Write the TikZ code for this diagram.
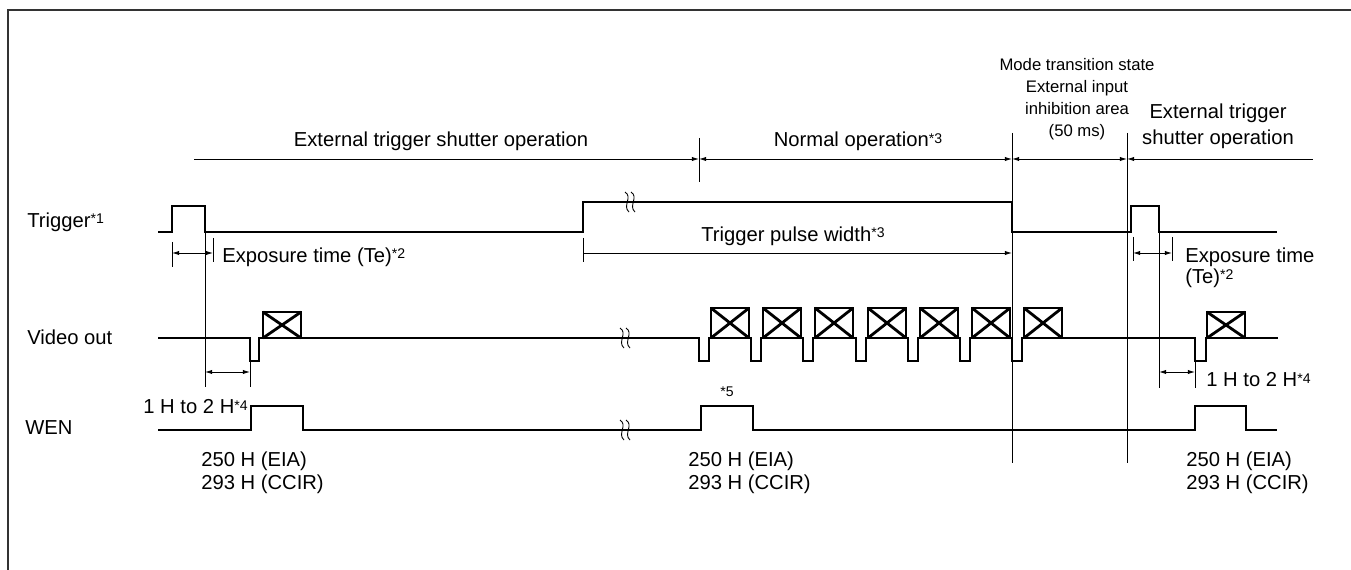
\documentclass[tikz,border=0pt]{standalone}
\usepackage{fontspec}
\setmainfont{Liberation Sans}
\usetikzlibrary{arrows.meta}

\tikzset{
  sig/.style={line width=1.3pt, line join=miter},
  thinline/.style={line width=0.5pt},
  frame/.style={line width=0.8pt, black!80},
  dim/.style={line width=0.5pt, {Latex[length=4pt,width=2.4pt]}-{Latex[length=4pt,width=2.4pt]}},
  dimr/.style={line width=0.5pt, -{Latex[length=4pt,width=2.4pt]}},
  diml/.style={line width=0.5pt, {Latex[length=4pt,width=2.4pt]}-},
  lbl/.style={font=\fontsize{11.5}{13}\selectfont, inner sep=0pt},
  small/.style={font=\fontsize{9.5}{12.5}\selectfont, inner sep=0pt},
  xbox/.style={line width=1.6pt},
}
\newcommand{\fn}[1]{{\fontsize{8}{8}\selectfont\raisebox{.45ex}{*#1}}}
% break mark on a signal line
\newcommand{\brk}[2]{%
  \draw[thinline] (#1-5,#2-10) .. controls (#1+3,#2-5) and (#1-8,#2+4) .. (#1-1,#2+10);
  \draw[thinline] (#1+1,#2-10) .. controls (#1+9,#2-5) and (#1-2,#2+4) .. (#1+5,#2+10);}
% video frame box with cross
\newcommand{\vidbox}[2]{%
  \draw[xbox] (#1,338) rectangle (#1+38,#2);
  \draw[xbox] (#1,338) -- (#1+38,#2) (#1,#2) -- (#1+38,338);}

\begin{document}
\begin{tikzpicture}[x=0.02cm, y=-0.02cm]
\useasboundingbox (0,0) rectangle (1351,570);
\draw[frame] (8,570) -- (8,10) -- (1351,10);

% signal names
\node[lbl, anchor=west] (trig) at (27,222) {Trigger\fn{1}};
\node[lbl, anchor=west] (vout) at (27,337) {Video out};
\node[lbl, anchor=west] (wen) at (25,428) {WEN};

% operation ranges
\coordinate (S1) at (194,159);
\coordinate (S2) at (699,159);
\coordinate (S3) at (1012,159);
\coordinate (S4) at (1127,159);
\coordinate (S5) at (1313,159);
\draw[dimr] (S1) -- (S2);
\draw[dim] (S2) -- (S3);
\draw[dim] (S3) -- (S4);
\draw[diml] (S4) -- (S5);
\draw[thinline] (699,138) -- (699,182);
\draw[thinline] (1012,133) -- (1012,463);
\draw[thinline] (1127,133) -- (1127,463);

\node[lbl, anchor=base] (extop) at (441,147) {External trigger shutter operation};
\node[lbl, anchor=base] (normop) at (858,147) {Normal operation\fn{3}};
\node[small, align=center, anchor=south] (mode) at (1077,140)
  {Mode transition state\\External input\\inhibition area\\(50 ms)};
\node[lbl, align=center, anchor=south, font=\fontsize{11.5}{14.5}\selectfont] (extop2) at (1218,149)
  {External trigger\\shutter operation};

% trigger
\draw[sig] (158,232) -- (172,232) -- (172,206) -- (205,206) -- (205,232) -- (583,232)
  -- (583,202) -- (1012,202) -- (1012,232) -- (1131,232) -- (1131,206) -- (1159,206)
  -- (1159,232) -- (1277,232);
\brk{630}{202}

% exposure time and pulse width
\draw[thinline] (172,242) -- (172,267);
\draw[thinline] (213,238) -- (213,262);
\draw[dim] (172,253) -- (213,253);
\node[lbl, anchor=west] (exp1) at (222,257) {Exposure time (Te)\fn{2}};

\draw[thinline] (583,238) -- (583,262);
\draw[dimr] (583,253) -- (1012,253);
\node[lbl, anchor=west] (tpw) at (701,236) {Trigger pulse width\fn{3}};

\draw[thinline] (1133,237) -- (1133,261);
\draw[thinline] (1172,237) -- (1172,261);
\draw[dim] (1133,253) -- (1172,253);
\node[lbl, anchor=west] (exp2) at (1185,257) {Exposure time};
\node[lbl, anchor=west] (te2) at (1185,278) {(Te)\fn{2}};

% video out
\draw[sig] (158,338) -- (250,338) -- (250,361) -- (259,361) -- (259,338) -- (699,338)
  \foreach \x in {699,751,803,856,908,960,1012} {
    -- (\x,338) -- (\x,361) -- (\x+10,361) -- (\x+10,338) }
  -- (1195,338) -- (1195,361) -- (1206,361) -- (1206,338) -- (1278,338);
\vidbox{263}{312}
\foreach \x in {699,751,803,856,908,960,1012} { \vidbox{\x+12}{308} }
\vidbox{1207}{312}
\brk{625}{338}

% 1 H to 2 H
\draw[thinline] (205,232) -- (205,387);
\draw[thinline] (250,361) -- (250,387);
\draw[dim] (205,372) -- (250,372);
\node[lbl, anchor=east] (h1) at (248,407) {1 H to 2 H\fn{4}};

\draw[thinline] (1159,232) -- (1159,388);
\draw[thinline] (1195,361) -- (1195,388);
\draw[dim] (1159,372) -- (1195,372);
\node[lbl, anchor=west] (h2) at (1206,380) {1 H to 2 H\fn{4}};

% WEN
\draw[sig] (158,430) -- (251,430) -- (251,406) -- (303,406) -- (303,430) -- (701,430)
  -- (701,406) -- (753,406) -- (753,430) -- (1195,430) -- (1195,406) -- (1246,406)
  -- (1246,430) -- (1277,430);
\brk{625}{430}
\node[inner sep=0pt] (n5) at (727,393) {\fn{5}};

\node[lbl, align=left, anchor=north west] (len1) at (201,452) {250 H (EIA)\\293 H (CCIR)};
\node[lbl, align=left, anchor=north west] (len2) at (688,452) {250 H (EIA)\\293 H (CCIR)};
\node[lbl, align=left, anchor=north west] (len3) at (1186,452) {250 H (EIA)\\293 H (CCIR)};
\end{tikzpicture}
\end{document}
